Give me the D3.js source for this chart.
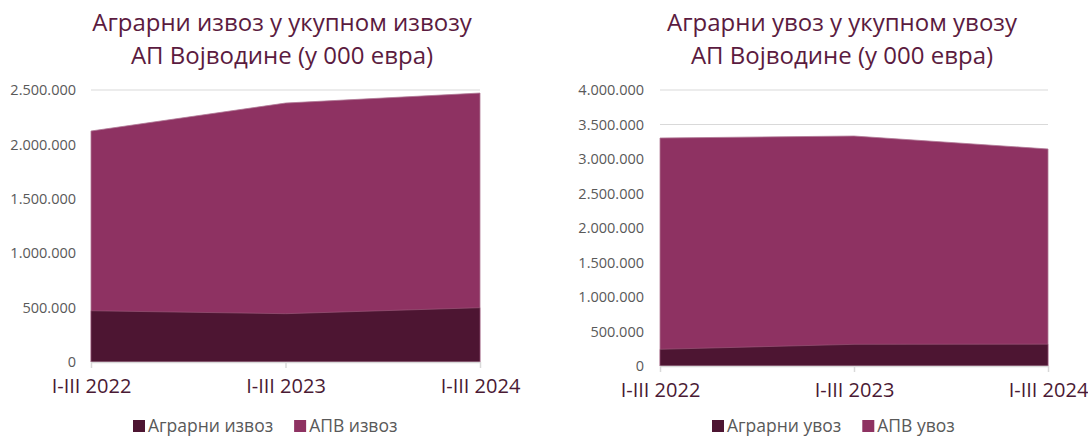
<!DOCTYPE html>
<html>
<head>
<meta charset="utf-8">
<script src="https://cdn.jsdelivr.net/npm/d3@7"></script>
<style>
  html, body { margin: 0; padding: 0; background: #fff; }
  svg { display: block; font-family: "Open Sans", "Noto Sans", sans-serif; }
</style>
</head>
<body>
<svg id="chart" width="1088" height="438"></svg>
<script>
// Periods on the x axis
const periods = ["I-III 2022", "I-III 2023", "I-III 2024"];

// Exports, thousand EUR
const agrarExport = [471000, 444000, 499000];
const apvExport = [2123000, 2380000, 2472000];

// Imports, thousand EUR
const agrarImport = [242000, 314000, 316000];
const apvImport = [3304000, 3333000, 3145000];

const exportTicks = [0, 500000, 1000000, 1500000, 2000000, 2500000];
const importTicks = [0, 500000, 1000000, 1500000, 2000000, 2500000, 3000000, 3500000, 4000000];

const exportTitle = ["Аграрни извоз у укупном извозу", "АП Војводине (у 000 евра)"];
const importTitle = ["Аграрни увоз у укупном увозу", "АП Војводине (у 000 евра)"];
const exportLegend = ["Аграрни извоз", "АПВ извоз"];
const importLegend = ["Аграрни увоз", "АПВ увоз"];

const DARK = "#4d1532";
const LIGHT = "#8e3262";
const fmt = v => d3.format(",")(v).replace(/,/g, ".");

const svg = d3.select("#chart");

function drawPanel(cfg) {
  const g = svg.append("g");
  const x = d3.scalePoint().domain(periods).range([cfg.x0, cfg.x1]);
  const y = d3.scaleLinear().domain([0, cfg.max]).range([cfg.y0, cfg.y1]);

  // title
  g.append("text")
    .attr("x", cfg.titleX).attr("text-anchor", "middle")
    .attr("fill", "#5b1b40").attr("font-size", 24)
    .selectAll("tspan").data(cfg.title).join("tspan")
    .attr("x", cfg.titleX).attr("y", (d, i) => 31 + i * 33).text(d => d);

  // gridlines
  g.append("g").selectAll("line").data(cfg.ticks).join("line")
    .attr("x1", cfg.x0).attr("x2", cfg.x1)
    .attr("y1", d => y(d)).attr("y2", d => y(d))
    .attr("stroke", "#d9d9d9").attr("stroke-width", 1);

  // y tick labels
  const yAxis = d3.axisLeft(y).tickValues(cfg.ticks).tickFormat(fmt).tickSize(0).tickPadding(0);
  const ya = g.append("g").attr("transform", `translate(${cfg.labelX},0)`).call(yAxis);
  ya.select(".domain").remove();
  ya.selectAll("text").attr("fill", "#595959").attr("font-size", 14.5)
    .attr("font-family", "'Open Sans', 'Noto Sans', sans-serif");

  const area = vals => d3.area()
    .x((d, i) => x(periods[i]))
    .y0(y(0)).y1(d => y(d))
    .curve(d3.curveLinear)(vals);

  // total first, agrarian share drawn over it
  g.append("path").attr("d", area(cfg.total)).attr("fill", LIGHT)
    .attr("stroke", "#b07896").attr("stroke-width", 0.8);
  g.append("path").attr("d", area(cfg.agrar)).attr("fill", DARK)
    .attr("stroke", "#a0607f").attr("stroke-width", 0.6);

  // x axis
  const xAxis = d3.axisBottom(x).tickSize(6).tickPadding(cfg.xPad);
  const xa = g.append("g").attr("transform", `translate(0,${cfg.y0})`).call(xAxis);
  xa.select(".domain").attr("stroke", "#d9d9d9").attr("stroke-width", 1.5)
    .attr("d", `M${cfg.x0},0.5H${cfg.x1}`);
  xa.selectAll(".tick line").attr("stroke", "#d9d9d9").attr("stroke-width", 1.5);
  xa.selectAll("text").attr("fill", "#4a1a34").attr("font-size", 20)
    .attr("font-family", "'Open Sans', 'Noto Sans', sans-serif");

  // legend
  const lg = g.append("g").attr("transform", `translate(${cfg.legendX},425)`);
  let off = 0;
  cfg.legend.forEach((name, i) => {
    lg.append("rect").attr("x", off).attr("y", -5).attr("width", 12).attr("height", 12)
      .attr("fill", i === 0 ? DARK : LIGHT);
    const t = lg.append("text").attr("x", off + 15).attr("y", 7)
      .attr("fill", "#595959").attr("font-size", 17.5).text(name);
    off += 15 + t.node().getComputedTextLength() + 21;
  });
}

drawPanel({
  x0: 91, x1: 480, y0: 362, y1: 90, max: 2500000, ticks: exportTicks,
  labelX: 76, titleX: 282, title: exportTitle, xPad: 11,
  total: apvExport, agrar: agrarExport, legend: exportLegend, legendX: 133
});

drawPanel({
  x0: 660, x1: 1048, y0: 366, y1: 90, max: 4000000, ticks: importTicks,
  labelX: 644, titleX: 842, title: importTitle, xPad: 11,
  total: apvImport, agrar: agrarImport, legend: importLegend, legendX: 712
});
</script>
</body>
</html>
